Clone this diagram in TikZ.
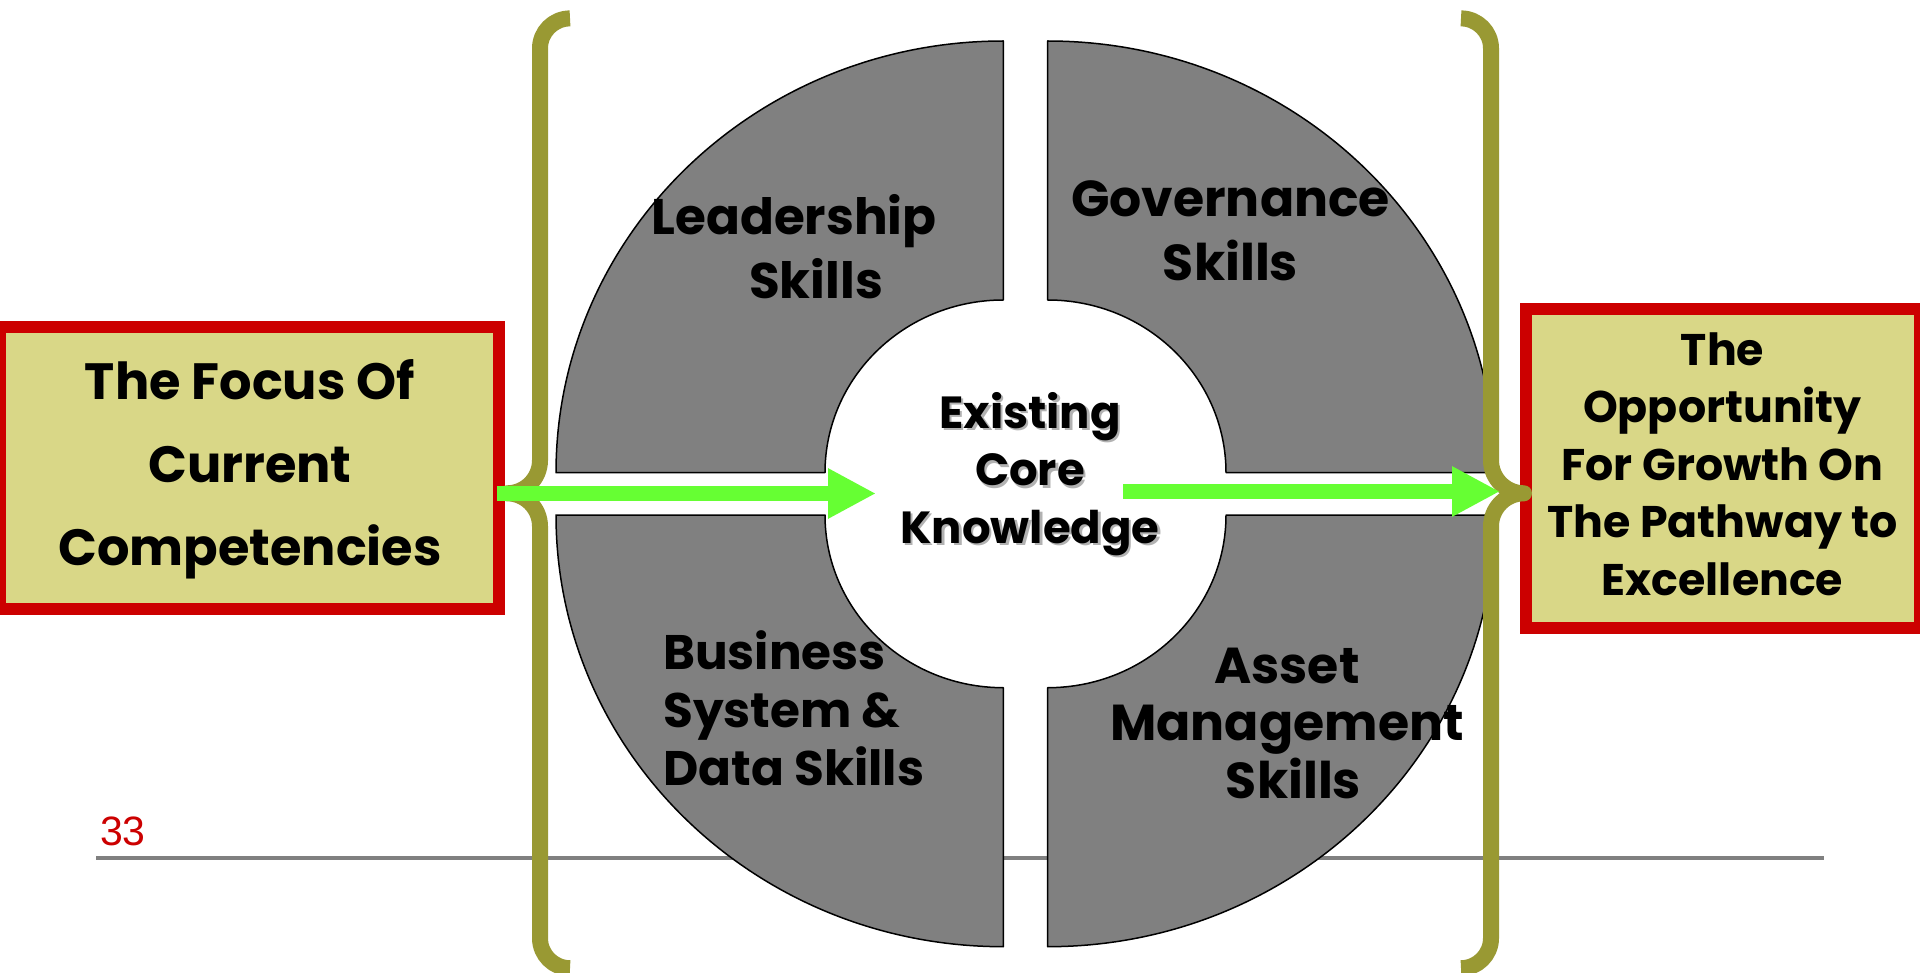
\documentclass[tikz,border=0pt]{standalone}
\usepackage{fontspec}
\newfontfamily\pgnumfont{Liberation Sans}
\newfontfamily\gothicfont{Poppins}
\usetikzlibrary{arrows.meta}
\definecolor{ringgray}{HTML}{808080}
\definecolor{olivebrace}{HTML}{999933}
\definecolor{arrowgreen}{HTML}{66FF33}
\definecolor{boxred}{HTML}{CC0000}
\definecolor{boxfill}{HTML}{D9D787}
\definecolor{rulegray}{HTML}{808080}
\definecolor{pagered}{HTML}{CC0000}
\newcommand\gothic[2]{\gothicfont\bfseries\fontsize{#1}{#2}\selectfont}
\begin{document}
\begin{tikzpicture}[x=1pt,y=-1pt,
  quad/.style={fill=ringgray, draw=black, line width=1.5pt, line join=round},
  bracepath/.style={draw=olivebrace, line width=16pt, line join=round},
  greenarrow/.style={draw=arrowgreen, line width=15pt, -{Triangle[length=48pt,width=47pt]}},
  framebox/.style={draw=boxred, fill=boxfill, line width=12pt, inner sep=0pt},
  lbl/.style={inner sep=0pt, align=center, text=black, anchor=base},
]
\useasboundingbox (0,0) rectangle (1920,973);
\fill[white] (0,0) rectangle (1920,973);

% bottom rule
\draw[rulegray, line width=4pt] (96,858) -- (1824,858);

% ring quadrants
\draw[quad] (1003.3,41) arc[start angle=90, end angle=180, x radius=447.3pt, y radius=431.7pt]
  -- (825,472.7) arc[start angle=180, end angle=90, x radius=178.3pt, y radius=172.7pt] -- cycle;
\draw[quad] (1047.7,41) arc[start angle=90, end angle=0, x radius=447.3pt, y radius=431.7pt]
  -- (1226,472.7) arc[start angle=0, end angle=90, x radius=178.3pt, y radius=172.7pt] -- cycle;
\draw[quad] (1003.3,946.7) arc[start angle=270, end angle=180, x radius=447.3pt, y radius=431.7pt]
  -- (825,515) arc[start angle=180, end angle=270, x radius=178.3pt, y radius=172.7pt] -- cycle;
\draw[quad] (1047.7,946.7) arc[start angle=270, end angle=360, x radius=447.3pt, y radius=431.7pt]
  -- (1226,515) arc[start angle=360, end angle=270, x radius=178.3pt, y radius=172.7pt] -- cycle;

% boxes
\node[framebox, minimum width=499pt, minimum height=281pt] (lbox) at (249.5,468) {};
\node[framebox, minimum width=394.5pt, minimum height=319pt] (rbox) at (1722.75,468.5) {};

% braces
\draw[bracepath] (570,18.4) arc[start angle=90, end angle=180, radius=30pt]
  -- (540,460.3) arc[start angle=0, end angle=-90, radius=33pt]
  coordinate (ltip)
  arc[start angle=90, end angle=0, radius=33pt]
  -- (540,938.2) arc[start angle=180, end angle=270, radius=30pt];
\draw[bracepath] (1461,18.4) arc[start angle=90, end angle=0, radius=30pt]
  -- (1491,460.3) arc[start angle=180, end angle=270, radius=33pt]
  coordinate (rtip)
  arc[start angle=90, end angle=180, radius=33pt]
  -- (1491,938.2) arc[start angle=0, end angle=-90, radius=30pt];

% arrows
\coordinate (lstart) at (497,493.5);
\coordinate (lend) at (876,493.5);
\coordinate (rstart) at (1123,491.5);
\coordinate (rend) at (1500,491.5);
\draw[greenarrow] (lstart) -- (lend);
\draw[greenarrow] (rstart) -- (rend);

% quadrant labels (anchor = baseline of last line)
\node[lbl, font=\gothic{50}{64}] (lead) at (794,298.3) {Leadership\\\hspace*{44pt}Skills};
\node[lbl, font=\gothic{50.5}{64}] (gov) at (1230.5,280.7) {Governance\\Skills};
\node[lbl, align=left, anchor=base west, font=\gothic{48.5}{58}] (bus) at (663,785) {Business\\System \&\\Data Skills};
\node[lbl, font=\gothic{50.5}{57.5}] (asset) at (1287,798.3) {Asset\\Management\\\hspace*{13pt}Skills};

% core label with shadow
\node[lbl, text=black!30, font=\gothic{45}{57.5}] (coreshadow) at (1032.5,545.5) {Existing\\Core\\Knowledge};
\node[lbl, font=\gothic{45}{57.5}] (core) at (1030,543) {Existing\\Core\\Knowledge};

% box labels
\node[lbl, font=\gothic{51}{83}] (ltext) at (250,565.7) {The Focus Of\\Current\\Competencies};
\node[lbl, font=\gothic{44.3}{57.5}] (rtext) at (1722.5,595) {The\\Opportunity\\For Growth On\\The Pathway to\\Excellence};

% page number
\node[inner sep=0pt, anchor=base west, text=pagered, font=\pgnumfont\fontsize{41}{41}\selectfont] (pgnum) at (100,845) {33};
\end{tikzpicture}
\end{document}
